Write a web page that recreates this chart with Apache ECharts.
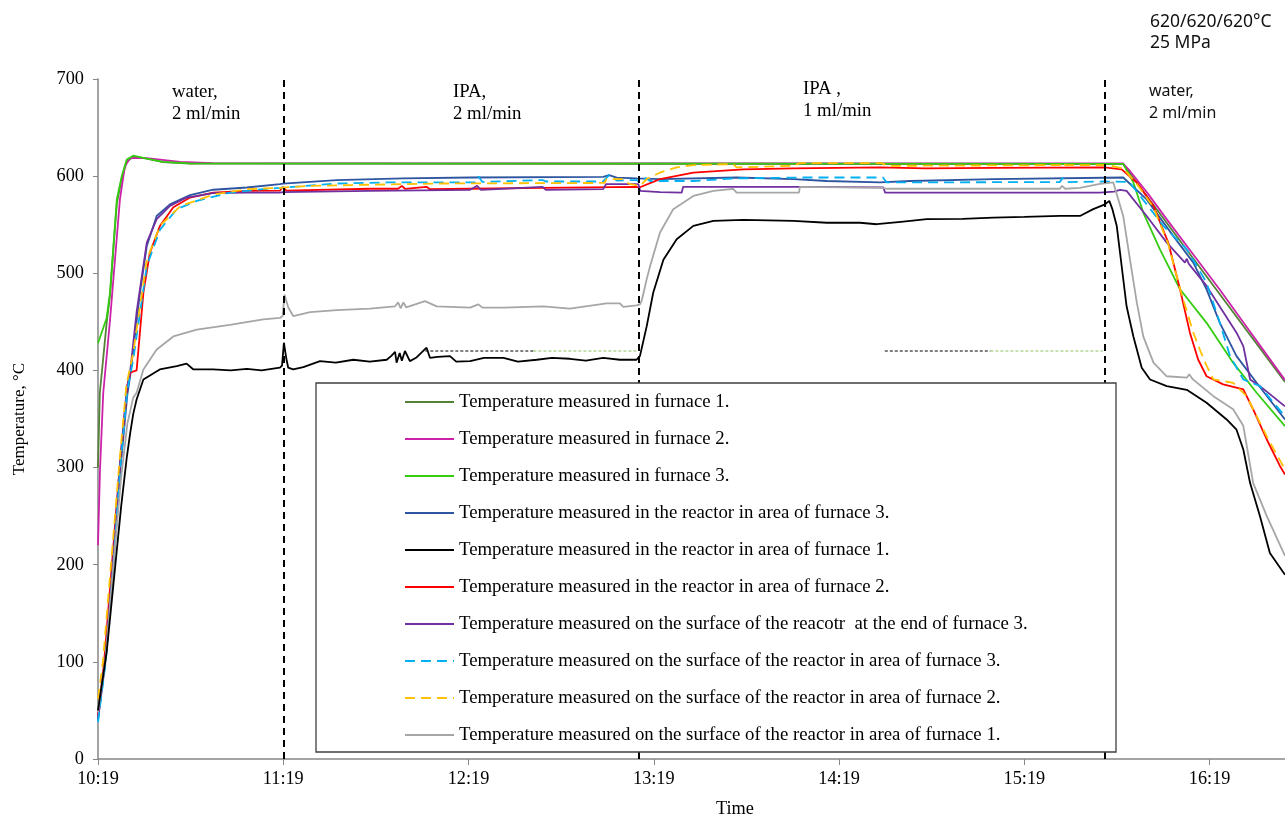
<!DOCTYPE html>
<html>
<head>
<meta charset="utf-8">
<script src="https://cdn.jsdelivr.net/npm/echarts@6/dist/echarts.min.js"></script>
<style>
  html, body { margin: 0; padding: 0; background: #fff; overflow: hidden; }
  #chart { width: 1285px; height: 818px; }
</style>
</head>
<body>
<div id="chart"></div>
<script>
// time in minutes after 10:19, temperature in °C
const furnace1 = [[0,300],[0.6,377],[2.8,449],[3.9,478],[5.0,526],[6.1,572],[7.7,598],[9.3,615],[11.4,620],[15.8,618],[21.1,614.5],[29.8,613],[332,612.5],[335.3,598],[384.4,388]];
const furnace2 = [[0,220],[0.65,298],[1.7,377],[3.9,452],[5.5,514],[7.1,576],[8.7,610],[10.4,618.6],[15.8,618.6],[26.6,614.7],[37.2,613.4],[332,613],[334,606],[340,582],[346,556],[355,518],[363.3,483],[371,449],[378.5,416],[384.4,390]];
const furnace3 = [[0,428],[2.8,454],[3.9,480],[5.0,528],[6.1,576],[7.7,600],[9.3,617],[11.4,621],[15.8,618],[21.1,614.7],[29.8,613.2],[332,612.6],[335.3,593.5],[338.5,562.5],[343.9,524.7],[350.4,483.5],[359,449],[367.6,408],[375.2,377],[384.4,342.6]];
const reactorF3 = [[0,40],[2.4,100],[5,200],[7.3,300],[9.5,375],[10.4,394],[13.6,480],[15.8,528],[19,559],[23.3,571],[29.8,580.4],[37.3,586],[48.2,588.3],[58.9,591.7],[60,592.4],[77.3,596],[98.9,597.6],[120.5,598.6],[163.6,599.3],[165.5,601],[168,598.5],[174.4,597.6],[182,597],[206.8,598.6],[225.2,597],[236,595],[253.2,593.5],[263,595],[290,597],[332,598.6],[339.6,576],[348.2,538.5],[354.7,511],[359,483.5],[363.3,449],[368.7,414.7],[375.2,387.3],[384.4,349.5]];
const reactorF1 = [[0,50],[2.8,110],[5,180],[7.5,260],[9.3,310],[10.4,335],[11.4,355],[12.5,370],[14.7,390.7],[20,401],[25.5,404.5],[28.7,407],[30.9,401],[37.3,401],[43,400],[48.2,401.5],[53,400],[58.9,402.8],[59.6,405],[60.2,428.5],[61,412],[61.6,402.8],[63.2,401],[66.5,403.5],[71.9,409.6],[77,408],[82.7,411],[88,409],[93.5,411],[95,415],[96.2,419],[96.7,408],[97.7,418],[98.4,410],[99.4,420],[101,409.6],[103,413],[106.4,423.4],[107.5,413],[110,414],[114,414.7],[116,409],[120.5,409.6],[125,413],[131.3,413],[136,409],[142.1,411],[147,413],[152.8,412],[158,410],[163.6,413],[169,411],[174.4,411],[175.5,414.7],[177.7,445.6],[179.8,480],[183.1,514],[187.4,535],[192.8,548.8],[199.3,554],[209,554.9],[225.2,554],[236,552],[246.8,552],[252.2,550.5],[260,553],[268.4,555.7],[280,556],[289.9,557.4],[300,558],[311.5,559],[318,559],[322.3,566],[326.1,571],[327.5,574.5],[328.5,566],[329.9,549],[331.5,507.5],[333.1,466],[335.3,435],[338,402.8],[340.7,390.7],[346.1,383.8],[352.6,380],[359,366.7],[365.5,349.5],[368.7,339],[370.9,318.6],[373.1,284],[376.3,249.8],[379.5,212],[384.4,189.7]];
const reactorF2 = [[0,45],[2,100],[4.5,200],[7,300],[9.5,385],[10.6,398],[12.5,400],[13,418],[14.7,480],[16.8,521],[20.1,549],[24.4,568],[29.8,578],[37.3,583],[48.2,584.8],[58.9,585],[59.8,588.9],[61,585],[88.1,587],[97.2,587],[98.4,590],[99.4,587],[106.4,589],[107.5,586.5],[120.5,587],[144,588],[174.4,589],[175.3,588.3],[182,597],[192.8,603.7],[209,607],[225.2,607.9],[253.2,609],[268,608],[290,608.5],[326,609],[331.5,607],[336.4,593.5],[341.8,569.4],[346.6,531.6],[350.4,483.5],[353.6,438.9],[356.3,411],[359,394],[364.4,385.6],[370.9,380.4],[374.1,359.8],[378.5,328.9],[382.8,301.4],[384.4,292.8]];
const surfaceEnd = [[0,42],[2.3,100],[4.8,200],[7,300],[9.3,380],[10.4,398],[12.5,460],[14.2,497],[15.8,531.6],[19,555.7],[23.3,569.4],[28.7,578],[37.3,582.5],[48.2,583],[58.9,583],[60,583.6],[88,584.8],[120.5,585.9],[122.8,590],[124,585.9],[144,589],[145,585.9],[163.6,586.6],[164.5,591.7],[175,591.7],[175.6,584.8],[182,583.6],[189,583],[189.5,589],[206,589],[227,589],[254.3,588.5],[254.9,583],[311.5,583],[324.5,583],[329,584],[331,585.9],[333.1,584.8],[339.6,559],[346.1,531.6],[352,511],[352.6,515],[353.2,510],[359,487],[368.7,438.9],[370.9,425],[373.1,390.7],[376.3,383.8],[384.4,363]];
const surfaceF3 = [[0,38],[2.5,100],[5,200],[7.2,300],[9.5,380],[11.4,411],[15.8,507.5],[20.1,545],[25.5,566],[32,574.5],[42.7,583],[53.5,586.6],[58.9,588],[60,588.3],[77.3,592.4],[93.5,593.5],[122.5,593.5],[123.2,599.7],[124.5,594],[144,596],[145,594.5],[163.6,594.5],[165.5,601],[168,595.5],[174.4,596],[175.5,593.5],[177.3,598],[178.8,595],[192.8,595],[205.7,597.6],[227,598.6],[254.2,598.6],[255.4,593.5],[311.5,593.9],[312.3,598],[313.2,593.9],[326,594.5],[334,594],[345,548.8],[352.6,524.7],[359,490.4],[363.3,449],[366.6,414.7],[370.9,390.7],[376.3,383.8],[384.4,352.6]];
const surfaceF2 = [[0,62],[1.6,100],[4.2,200],[6.8,300],[9.2,385],[11.4,418],[15.8,514],[20.1,549],[26.6,569],[37.3,581],[48.2,586.6],[58.9,588],[68.7,590],[109.7,592.4],[164,593],[164.7,597],[170,597],[172,592],[175.5,590],[177.7,597],[182,603.7],[187.4,609],[192.8,611.3],[205.7,612.4],[206.8,609],[225.2,610.6],[227.3,613.4],[254,613.4],[255.4,610.6],[311.5,611.3],[312.3,614.7],[313.3,611.3],[327,611.3],[332,608],[336.4,592],[341.8,568],[346.6,530],[350.4,484],[354.7,439],[357,420],[359,405],[361.2,390.7],[367.6,387.3],[372,373.5],[378.5,332],[384.4,298]];
const surfaceF1 = [[0,48],[2.5,105],[5,200],[7.5,290],[9.5,345],[11.4,372],[12.5,377],[14.7,401],[19,421.6],[24.4,435],[32,442],[42.7,447],[53.5,452.6],[58.9,454],[59.8,456],[60.4,478],[61.6,465],[63.2,456],[68.7,460],[77.3,462],[88.1,463.6],[96.2,466],[97.2,470],[98,464],[98.9,470],[99.8,465],[105.9,471.4],[109.7,466],[120.5,464.6],[123.2,468],[124.5,464.6],[131.3,464.6],[144.2,466],[152.8,463.6],[164.7,469],[169,469],[170.1,465.5],[174.4,467],[175.5,468],[176.1,472],[177.7,494],[178.8,507.5],[182,542],[186.3,566],[192.8,579.6],[199.3,584.8],[205.7,587],[206.3,587],[206.8,583],[227,583],[227.3,589],[254,588],[255.4,587],[311.5,587],[312.2,590],[313.2,587],[318,588],[321.2,590],[324.5,592],[328.8,593.5],[332,559],[334.2,514],[336.4,470],[338.5,435],[341.8,408],[346.1,394],[352.6,392.5],[353.4,396],[354.5,391],[361.2,373.5],[367.6,360],[370.9,343],[374.1,284],[378.5,250],[384.4,209]];

// phase changes (minutes after 10:19) and the 420 °C guide lines
const phaseLines = [60, 175.2, 326.1];
const guideBlack = [[[106, 420], [141, 420]], [[254.8, 420], [289, 420]]];
const guideGreen = [[[141, 420], [175, 420]], [[289, 420], [325.4, 420]]];

const seriesNames = [
  'Temperature measured in furnace 1.',
  'Temperature measured in furnace 2.',
  'Temperature measured in furnace 3.',
  'Temperature measured in the reactor in area of furnace 3.',
  'Temperature measured in the reactor in area of furnace 1.',
  'Temperature measured in the reactor in area of furnace 2.',
  'Temperature measured on the surface of the reacotr  at the end of furnace 3.',
  'Temperature measured on the surface of the reactor in area of furnace 3.',
  'Temperature measured on the surface of the reactor in area of furnace 2.',
  'Temperature measured on the surface of the reactor in area of furnace 1.'
];
const seriesData = [furnace1, furnace2, furnace3, reactorF3, reactorF1, reactorF2, surfaceEnd, surfaceF3, surfaceF2, surfaceF1];
const seriesColors = ['#538135', '#cc22aa', '#33cc11', '#2e55a0', '#000000', '#ff0000', '#7030a0', '#00b0f0', '#ffc000', '#a6a6a6'];
const dashedSeries = [7, 8];

const SERIF = 'Liberation Serif, Times New Roman, serif';
const SANS = 'Noto Sans, Open Sans, sans-serif';

function timeLabel(m) {
  const total = 10 * 60 + 19 + Math.round(m);
  const h = Math.floor(total / 60);
  const mm = total % 60;
  return h + ':' + (mm < 10 ? '0' : '') + mm;
}

function lineSeries(i) {
  return {
    name: seriesNames[i],
    type: 'line',
    data: seriesData[i],
    symbol: 'none',
    showSymbol: false,
    z: 2 + (i === 4 ? 1 : 0),
    lineStyle: {
      color: seriesColors[i],
      width: 1.8,
      type: dashedSeries.includes(i) ? [10, 6] : 'solid'
    },
    itemStyle: { color: seriesColors[i] }
  };
}

function guideSeries(segments, color, id) {
  const data = [];
  segments.forEach((seg, k) => {
    if (k > 0) data.push(['-', '-']);
    data.push(seg[0], seg[1]);
  });
  return {
    id: id,
    type: 'line',
    data: data,
    symbol: 'none',
    silent: true,
    connectNulls: false,
    lineStyle: { color: color, width: 1, type: [3, 2] }
  };
}

const chart = echarts.init(document.getElementById('chart'), null, { renderer: 'canvas', width: 1285, height: 818 });

const series = seriesNames.map((_, i) => lineSeries(i));
series.push(guideSeries(guideBlack, '#000000', 'guideBlack'));
series.push(guideSeries(guideGreen, '#8cc063', 'guideGreen'));
series.push({
  id: 'phases',
  type: 'line',
  data: [],
  silent: true,
  markLine: {
    silent: true,
    symbol: 'none',
    label: { show: false },
    lineStyle: { color: '#000', width: 2, type: [7, 5] },
    data: phaseLines.map(v => ({ xAxis: v }))
  }
});

const option = {
  animation: false,
  backgroundColor: '#fff',
  grid: { left: 98, right: 0, top: 79, bottom: 59, containLabel: false },
  xAxis: {
    type: 'value',
    min: 0,
    max: 384.4,
    interval: 60,
    splitLine: { show: false },
    axisLine: { lineStyle: { color: '#868686', width: 1.5 } },
    axisTick: { length: 6, lineStyle: { color: '#868686' } },
    axisLabel: {
      color: '#000', fontFamily: SERIF, fontSize: 18.3, margin: 11,
      showMaxLabel: false,
      formatter: timeLabel
    }
  },
  yAxis: {
    type: 'value',
    min: 0,
    max: 700,
    interval: 100,
    name: 'Temperature, °C',
    nameLocation: 'middle',
    nameGap: 70,
    nameTextStyle: { color: '#000', fontFamily: SERIF, fontSize: 17 },
    splitLine: { show: false },
    axisLine: { show: true, lineStyle: { color: '#868686', width: 1.5 } },
    axisTick: { show: true, length: 5, lineStyle: { color: '#868686' } },
    axisLabel: { color: '#000', fontFamily: SERIF, fontSize: 18.3, margin: 14 }
  },
  legend: {
    data: seriesNames,
    orient: 'vertical',
    left: 316,
    top: 383,
    padding: [9, 0, 7, 88],
    itemWidth: 49,
    itemHeight: 14,
    itemGap: 17,
    z: 200,
    selectedMode: false,
    itemStyle: { opacity: 0 },
    textStyle: { color: '#000', fontFamily: SERIF, fontSize: 18.8, lineHeight: 20 }
  },
  graphic: [
    {
      type: 'rect', z: 100, silent: true,
      shape: { x: 316, y: 383, width: 800, height: 369 },
      style: { fill: '#fff', stroke: '#3f3f3f', lineWidth: 1.3 }
    },
    {
      type: 'text', left: 172, top: 81, z: 100,
      style: { text: 'water,\n2 ml/min', font: '18.8px ' + SERIF, fill: '#000', lineHeight: 22 }
    },
    {
      type: 'text', left: 453, top: 81, z: 100,
      style: { text: 'IPA,\n2 ml/min', font: '18.8px ' + SERIF, fill: '#000', lineHeight: 22 }
    },
    {
      type: 'text', left: 803, top: 78, z: 100,
      style: { text: 'IPA ,\n1 ml/min', font: '18.8px ' + SERIF, fill: '#000', lineHeight: 22 }
    },
    {
      type: 'text', left: 1149, top: 80, z: 100,
      style: { text: 'water,\n2 ml/min', font: '16px ' + SANS, fill: '#111', lineHeight: 22 }
    },
    {
      type: 'text', left: 1150, top: 12, z: 100,
      style: { text: '620/620/620°C\n25 MPa', font: '17.5px ' + SANS, fill: '#111', lineHeight: 21 }
    },
    {
      type: 'text', left: 716, top: 800, z: 100,
      style: { text: 'Time', font: '18.3px ' + SERIF, fill: '#000' }
    }
  ],
  series: series
};

chart.setOption(option);
</script>
</body>
</html>
